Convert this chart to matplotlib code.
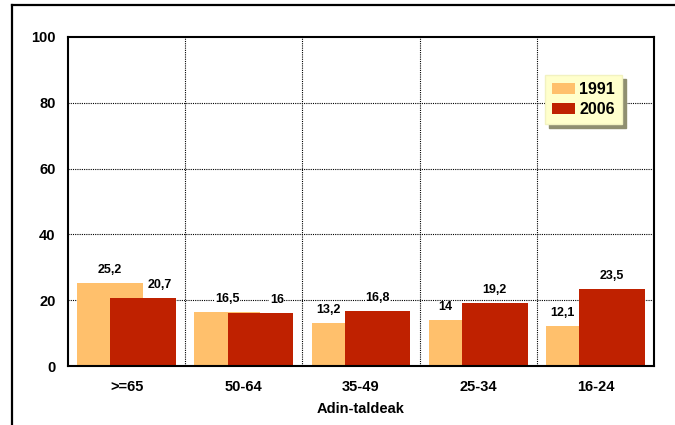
import matplotlib
matplotlib.use("Agg")
import matplotlib.pyplot as plt
from matplotlib.lines import Line2D
import numpy as np

plt.rcParams['font.family'] = ['Liberation Sans', 'DejaVu Sans']
plt.rcParams['font.weight'] = 'bold'

categories = [">=65", "50-64", "35-49", "25-34", "16-24"]
series_names = ["1991", "2006"]
values_1991 = [25.2, 16.5, 13.2, 14.0, 12.1]
values_2006 = [20.7, 16.0, 16.8, 19.2, 23.5]
labels_1991 = ["25,2", "16,5", "13,2", "14", "12,1"]
labels_2006 = ["20,7", "16", "16,8", "19,2", "23,5"]
yticks = [0, 20, 40, 60, 80, 100]

c1991 = "#FFC06C"
c2006 = "#BF2100"

fig = plt.figure(figsize=(6.75, 4.25), dpi=100)
ax = fig.add_axes([68/675, 1-366/425, (654-68)/675, (366-37)/425])

x = np.arange(len(categories))
w = 0.56
off = 0.142
ax.bar(x - off, values_1991, width=w, color=c1991, label=series_names[0], zorder=2)
ax.bar(x + off, values_2006, width=w, color=c2006, label=series_names[1], zorder=3)

shift = 0.14
for i in range(len(categories)):
    v1, v2 = values_1991[i], values_2006[i]
    x1 = x[i] - off - (shift if v1 < v2 else 0)
    x2 = x[i] + off + (shift if v2 < v1 else 0)
    for xx, vv, tt in ((x1, v1, labels_1991[i]), (x2, v2, labels_2006[i])):
        ax.annotate(tt, (xx, vv), xytext=(0, 5), textcoords="offset points",
                    ha="center", va="bottom", fontsize=9, fontweight="bold",
                    zorder=5,
                    bbox=dict(facecolor="white", edgecolor="none", pad=0.3))

ax.set_xlim(-0.5, len(categories) - 0.5)
ax.set_ylim(0, 100)
ax.set_yticks(yticks)
ax.set_yticklabels([str(t) for t in yticks], fontsize=10.5, fontweight="bold")
ax.set_xticks(x)
ax.set_xticklabels(categories, fontsize=10.5, fontweight="bold")
ax.tick_params(axis="both", length=0)
ax.tick_params(axis="y", pad=9)
ax.tick_params(axis="x", pad=10)

for yv in yticks[1:-1]:
    ax.axhline(yv, color="black", lw=0.8, ls=(0, (1, 1)), zorder=1)
for xb in np.arange(0.5, len(categories) - 0.5, 1.0):
    ax.axvline(xb, color="black", lw=0.8, ls=(0, (1, 1)), zorder=1)

for s in ax.spines.values():
    s.set_linewidth(1.5)
    s.set_color("black")
    s.set_zorder(6)

ax.set_xlabel("Adin-taldeak", fontsize=10.5, fontweight="bold", labelpad=6)

leg = ax.legend(loc="upper left", bbox_to_anchor=(545/675, 1-75/425),
                bbox_transform=fig.transFigure,
                prop=dict(weight="bold", size=11.5),
                frameon=True, fancybox=False, framealpha=1,
                facecolor="#FFFFCC", edgecolor="#F2F2C0",
                handlelength=1.45, handleheight=0.75, handletextpad=0.25,
                borderpad=0.45, labelspacing=0.3, borderaxespad=0,
                shadow={"color": "#8F8F70", "alpha": 1, "ox": 3, "oy": -3})

# figure frame (top and left edges)
fig.add_artist(Line2D([12/675, 1.0], [1-5/425, 1-5/425], color="black", lw=1.6,
                      transform=fig.transFigure))
fig.add_artist(Line2D([12/675, 12/675], [0.0, 1-5/425], color="black", lw=1.6,
                      transform=fig.transFigure))

fig.savefig("out.png", dpi=100)
